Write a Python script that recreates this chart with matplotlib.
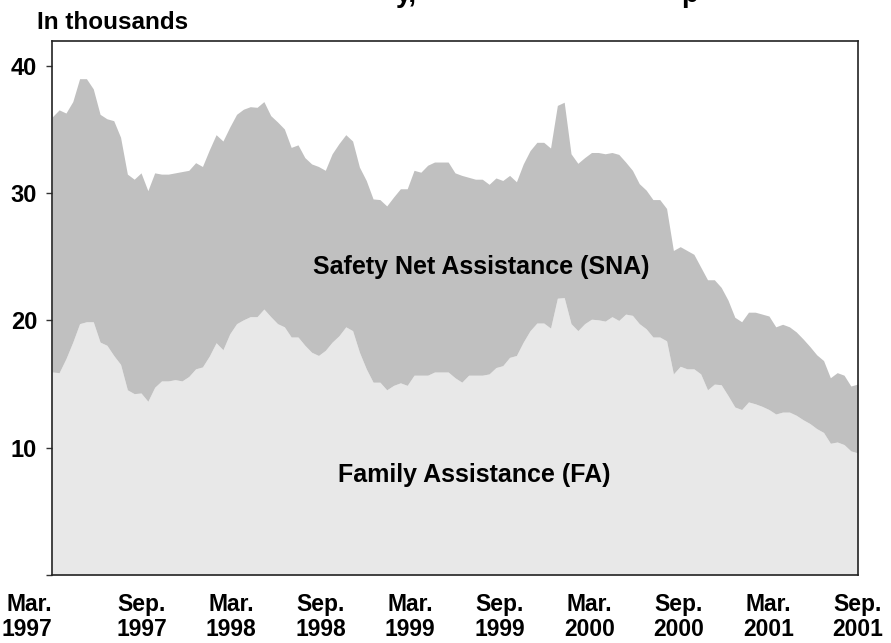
import matplotlib
matplotlib.use("Agg")
import matplotlib.pyplot as plt
from matplotlib import font_manager as fm
import numpy as np

# biweekly caseload, in thousands (Mar. 1997 - Sep. 2001)
total = [36.0, 36.55, 36.3, 37.2, 39.0, 39.0, 38.2, 36.2, 35.85, 35.7,
         34.4, 31.5, 31.1, 31.6, 30.2, 31.6, 31.5, 31.5, 31.6, 31.7,
         31.8, 32.4, 32.1, 33.4, 34.6, 34.1, 35.2, 36.2, 36.6, 36.8,
         36.75, 37.2, 36.1, 35.6, 35.05, 33.6, 33.8, 32.8, 32.3, 32.1,
         31.8, 33.1, 33.9, 34.6, 34.1, 32.05, 31.0, 29.55, 29.5, 29.0,
         29.7, 30.35, 30.35, 31.8, 31.65, 32.2, 32.45, 32.45, 32.45, 31.6,
         31.4, 31.25, 31.1, 31.1, 30.7, 31.2, 31.0, 31.4, 30.9, 32.3,
         33.35, 34.0, 34.0, 33.55, 36.9, 37.15, 33.1, 32.35, 32.8, 33.2,
         33.2, 33.1, 33.2, 33.05, 32.45, 31.8, 30.75, 30.25, 29.5, 29.5,
         28.8, 25.5, 25.8, 25.5, 25.2, 24.2, 23.2, 23.2, 22.6, 21.6,
         20.25, 19.9, 20.65, 20.65, 20.5, 20.35, 19.5, 19.7, 19.5, 19.1,
         18.55, 17.95, 17.3, 16.85, 15.5, 15.9, 15.7, 14.85, 15.0]

fa = [15.95, 15.9, 17.0, 18.3, 19.75, 19.9, 19.9, 18.3, 18.05, 17.25,
      16.55, 14.55, 14.25, 14.3, 13.65, 14.75, 15.25, 15.25, 15.35, 15.25,
      15.6, 16.2, 16.35, 17.2, 18.25, 17.7, 18.95, 19.75, 20.05, 20.3,
      20.3, 20.9, 20.3, 19.75, 19.5, 18.7, 18.7, 18.05, 17.5, 17.25,
      17.65, 18.3, 18.8, 19.5, 19.2, 17.5, 16.2, 15.15, 15.15, 14.55,
      14.9, 15.1, 14.9, 15.7, 15.7, 15.7, 15.95, 15.95, 15.95, 15.5,
      15.15, 15.7, 15.7, 15.7, 15.8, 16.3, 16.45, 17.1, 17.25, 18.3,
      19.2, 19.8, 19.8, 19.4, 21.75, 21.8, 19.75, 19.2, 19.75, 20.1,
      20.05, 19.95, 20.3, 20.0, 20.5, 20.4, 19.75, 19.35, 18.7, 18.7,
      18.4, 15.8, 16.4, 16.2, 16.2, 15.8, 14.55, 15.0, 14.95, 14.1,
      13.2, 13.0, 13.6, 13.45, 13.25, 13.0, 12.65, 12.8, 12.8, 12.55,
      12.2, 11.9, 11.5, 11.2, 10.35, 10.45, 10.25, 9.75, 9.6]

xlabels = ['Mar.\n1997', 'Sep.\n1997', 'Mar.\n1998', 'Sep.\n1998', 'Mar.\n1999',
           'Sep.\n1999', 'Mar.\n2000', 'Sep.\n2000', 'Mar.\n2001', 'Sep.\n2001']
yticks = [0, 10, 20, 30, 40]
ylabels = ['', '10', '20', '30', '40']

names = {f.name for f in fm.fontManager.ttflist}
plt.rcParams['font.family'] = ['Liberation Sans', 'DejaVu Sans']
if 'Liberation Sans Narrow' in names:
    xfont, xsize = 'Liberation Sans Narrow', 18
else:
    xfont, xsize = 'Liberation Sans', 16.5

x = np.arange(len(fa))

fig = plt.figure(figsize=(8.91, 6.43), dpi=100)
ax = fig.add_axes([0.0587, 0.1058, 0.9039, 0.8312])

ax.fill_between(x, 0, fa, color='#e8e8e8', lw=0)
ax.fill_between(x, fa, total, color='#c0c0c0', lw=0)

ax.set_xlim(0, len(fa) - 1)
ax.set_ylim(0, 42)

ax.set_yticks(yticks)
ax.set_yticklabels(ylabels, fontsize=17, fontweight='bold')
ax.tick_params(axis='y', direction='out', length=4, width=1, color='#333333', pad=7)

ax.set_xticks(np.linspace(0, len(fa) - 1, len(xlabels)))
ax.set_xticklabels(xlabels, fontsize=xsize, fontweight='bold', family=xfont,
                   linespacing=1.1)
ax.tick_params(axis='x', length=0, pad=13)
ax.get_xticklabels()[0].set_ha('right')

for s in ax.spines.values():
    s.set_color('#222222')
    s.set_linewidth(1.2)

ax.text(62.9, 23.66, 'Safety Net Assistance (SNA)', ha='center', va='baseline',
        fontsize=18, fontweight='bold')
ax.text(61.8, 7.3, 'Family Assistance (FA)', ha='center', va='baseline',
        fontsize=18, fontweight='bold')

fig.text(37 / 891, 1 - 29 / 643, 'In thousands', fontsize=17.5, fontweight='bold',
         va='baseline', ha='left')

# cut-off title fragments at the very top
fig.text(396 / 891, 1 - 2.5 / 643, 'y,', fontsize=20, fontweight='bold',
         va='baseline', ha='left')
fig.text(681 / 891, 1 - 2.5 / 643, 'p', fontsize=20, fontweight='bold',
         va='baseline', ha='left')

fig.savefig('out.png', dpi=100)
